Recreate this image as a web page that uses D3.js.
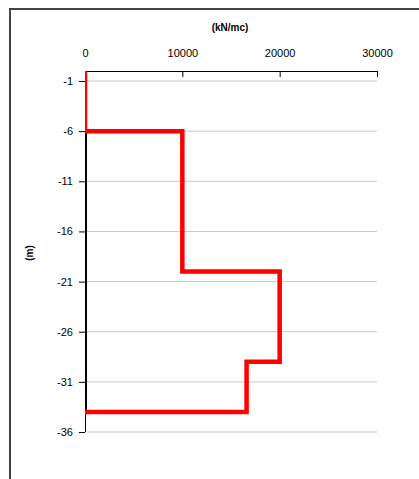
<!DOCTYPE html>
<html>
<head>
<meta charset="utf-8">
<script src="https://cdn.jsdelivr.net/npm/d3@7"></script>
<style>
  body { margin: 0; background: #fff; }
  text { font-family: "Liberation Sans", Arial, sans-serif; }
</style>
</head>
<body>
<div id="my_dataviz"></div>
<script>
// data
const depth = [0, -6, -6, -20, -20, -29, -29, -34, -34];
const load = [0, 0, 10000, 10000, 20000, 20000, 16600, 16600, 0];
const axisDepth = [-6, -34];
const axisLoad = [0, 0];
const xTicks = [0, 10000, 20000, 30000];
const yTicks = [-1, -6, -11, -16, -21, -26, -31, -36];

const W = 419, H = 479;
const margin = {top: 71, left: 85},
    width = 292,
    height = 361;

const svg = d3.select("#my_dataviz")
  .append("svg")
    .attr("width", W)
    .attr("height", H);

// outer chart frame (cut by the window on right and bottom)
svg.append("rect")
  .attr("x", 10).attr("y", 9)
  .attr("width", 430).attr("height", 500)
  .attr("fill", "none")
  .attr("stroke", "#444")
  .attr("stroke-width", 2);

const g = svg.append("g")
  .attr("transform", `translate(${margin.left},${margin.top})`);

const x = d3.scaleLinear().domain([0, 30000]).range([0, width]);
const y = d3.scaleLinear().domain([0, -36]).range([0, height]);

// gridlines
g.append("g")
  .selectAll("line")
  .data(yTicks)
  .join("line")
    .attr("x1", 0).attr("x2", width)
    .attr("y1", d => y(d)).attr("y2", d => y(d))
    .attr("stroke", "#c8c8c8")
    .attr("stroke-width", 1);

// top x axis
const xAxis = g.append("g")
  .call(d3.axisTop(x).tickValues(xTicks).tickSize(-6).tickPadding(14).tickFormat(d3.format("d")))
xAxis.select(".domain").attr("stroke", "#000");
xAxis.selectAll(".tick line").attr("stroke", "#000");
xAxis.selectAll("text")
  .attr("font-size", 11)
  .attr("fill", "#000");
xAxis.select(".domain").attr("d", `M0,0.5H${width}`);

// left y axis
const yAxis = g.append("g")
  .call(d3.axisLeft(y).tickValues(yTicks).tickSize(6).tickPadding(6).tickFormat(d3.format("d")));
yAxis.select(".domain").attr("d", `M0.5,0V${height}`).attr("stroke", "#000");
yAxis.selectAll(".tick line").attr("stroke", "#000");
yAxis.selectAll("text")
  .attr("font-size", 11)
  .attr("fill", "#000")
  .text(d => String(d).replace("-", "-"));

// clip to plot area, like the spreadsheet does
g.append("clipPath").attr("id", "plot")
  .append("rect").attr("x", 0).attr("y", 0).attr("width", width).attr("height", height);

const line = d3.line().x(d => x(d[0])).y(d => y(d[1]));

g.append("path")
  .datum(d3.zip(axisLoad, axisDepth))
  .attr("clip-path", "url(#plot)")
  .attr("d", line)
  .attr("fill", "none")
  .attr("stroke", "#000")
  .attr("stroke-width", 4);

g.append("path")
  .datum(d3.zip(load, depth))
  .attr("clip-path", "url(#plot)")
  .attr("d", line)
  .attr("fill", "none")
  .attr("stroke", "#ff0000")
  .attr("stroke-width", 4.5)
  .attr("stroke-linejoin", "miter");

// titles
svg.append("text")
  .attr("x", 230).attr("y", 31)
  .attr("text-anchor", "middle")
  .attr("font-size", 10)
  .attr("font-weight", "bold")
  .text("(kN/mc)");

svg.append("text")
  .attr("transform", "translate(33,253) rotate(-90)")
  .attr("text-anchor", "middle")
  .attr("font-size", 10)
  .attr("font-weight", "bold")
  .text("(m)");
</script>
</body>
</html>
